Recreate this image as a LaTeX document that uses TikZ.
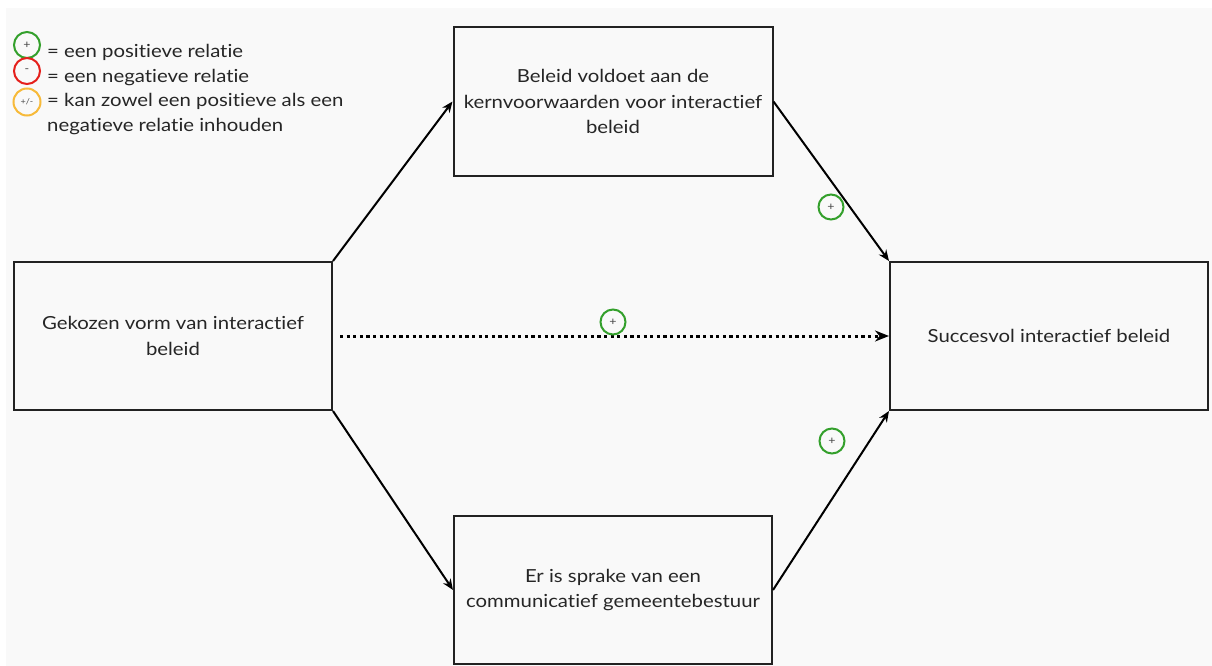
\documentclass[tikz,border=0pt]{standalone}
\usepackage{fontspec}
\setmainfont[FakeStretch=1.13, RawFeature={-liga;-dlig}]{Lato}
\usetikzlibrary{arrows.meta}
\definecolor{bg}{HTML}{F9F9F9}
\definecolor{boxline}{HTML}{222222}
\definecolor{txt}{HTML}{262626}
\definecolor{posgreen}{HTML}{34A02C}
\definecolor{negred}{HTML}{E5201C}
\definecolor{amb}{HTML}{F7BA3A}
\tikzset{
  box/.style={draw=boxline, line width=2pt, rectangle, minimum width=318pt, minimum height=148pt,
    align=center, text=txt, font=\fontsize{18}{25.5}\selectfont, inner sep=0pt},
  conn/.style={draw=black, line width=2pt, -{Stealth[length=11pt,width=9pt]}},
  dotconn/.style={draw=black, line width=3pt, dash pattern=on 3.2pt off 3.4pt, -{Stealth[length=14pt,width=11pt]}},
  relcircle/.style={circle, line width=2pt, minimum size=25pt, inner sep=0pt, text=txt!85, font=\fontsize{11}{11}\selectfont},
  legtext/.style={anchor=west, text=txt, font=\fontsize{18}{25.5}\selectfont, inner sep=0pt, align=left}
}
\begin{document}
\begin{tikzpicture}[x=1pt,y=-1pt]
\useasboundingbox (0,0) rectangle (1212,666);
\fill[white] (0,0) rectangle (1212,666);
\fill[bg] (6,8) rectangle (1212,666);

\node[box] (left) at (173,336) {Gekozen vorm van interactief\\beleid};
\node[box, minimum width=319pt, minimum height=149pt] (top) at (613,101.5) {Beleid voldoet aan de\\kernvoorwaarden voor interactief\\beleid};
\node[box] (bottom) at (613,590) {Er is sprake van een\\communicatief gemeentebestuur};
\node[box] (right) at (1049,336) {Succesvol interactief beleid};

\draw[conn] (left.north east) -- (top.west);
\draw[conn] (top.east) -- (right.north west);
\draw[conn] (left.south east) -- (bottom.west);
\draw[conn] (bottom.east) -- (right.south west);
\coordinate (dotstart) at ([xshift=7pt]left.east);
\draw[dotconn] (dotstart) -- (right.west);

\node[relcircle, draw=posgreen] (c1) at (831,207) {+};
\node[relcircle, draw=posgreen] (c2) at (613,322) {+};
\node[relcircle, draw=posgreen] (c3) at (832,441) {+};

\node[relcircle, draw=posgreen, minimum size=26pt] (l1) at (27,45) {+};
\node[relcircle, draw=negred, minimum size=26pt, font=\fontsize{11}{11}\selectfont] (l2) at (27,71) {-};
\node[relcircle, draw=amb, minimum size=27pt, font=\fontsize{8}{8}\selectfont] (l3) at (27,102) {+/-};
\node[legtext] (t1) at (47,52.5) {= een positieve relatie};
\node[legtext] (t2) at (47,78) {= een negatieve relatie};
\node[legtext, anchor=north west] (t3) at (47,93) {= kan zowel een positieve als een\\negatieve relatie inhouden};
\end{tikzpicture}
\end{document}
